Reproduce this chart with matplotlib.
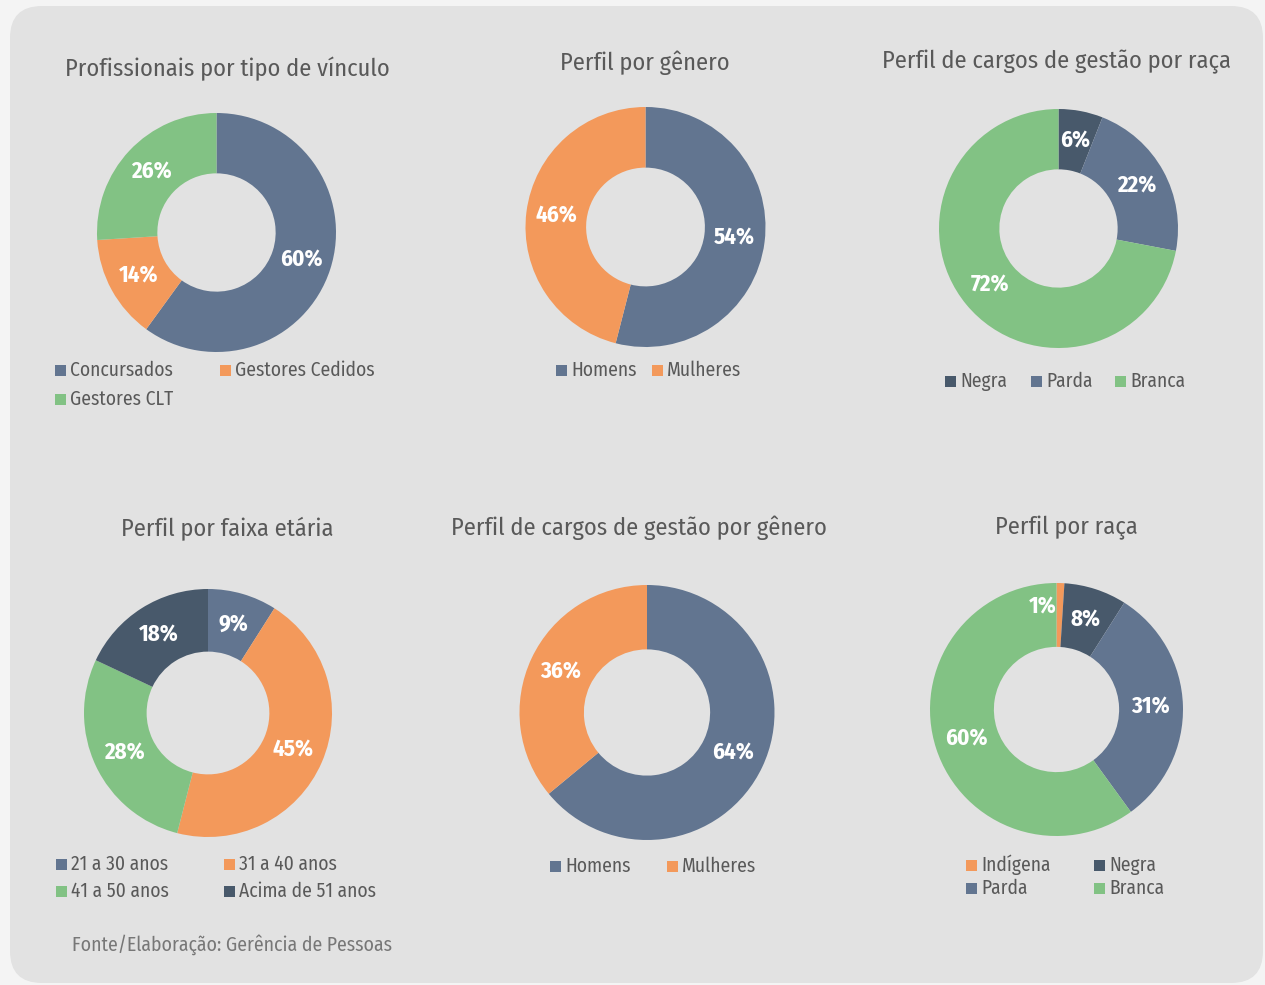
import matplotlib
matplotlib.use('Agg')
import matplotlib.pyplot as plt
from matplotlib import font_manager
from matplotlib.patches import FancyBboxPatch, Rectangle

# pick a narrow font if one is installed
names = {f.name for f in font_manager.fontManager.ttflist}
font = 'DejaVu Sans'
for cand in ['Fira Sans Condensed', 'Liberation Sans Narrow', 'Roboto Condensed', 'Open Sans Condensed', 'Liberation Sans']:
    if cand in names:
        font = cand
        break
plt.rcParams['font.family'] = [font, 'DejaVu Sans']

SLATE = '#627590'
ORANGE = '#F3995B'
GREEN = '#82C284'
DARK = '#48596B'
TXT = '#595959'

# data
vinculo_labels = ['Concursados', 'Gestores Cedidos', 'Gestores CLT']
vinculo_vals = [60, 14, 26]
genero_labels = ['Homens', 'Mulheres']
genero_vals = [54, 46]
gestao_raca_labels = ['Negra', 'Parda', 'Branca']
gestao_raca_vals = [6, 22, 72]
idade_labels = ['21 a 30 anos', '31 a 40 anos', '41 a 50 anos', 'Acima de 51 anos']
idade_vals = [9, 45, 28, 18]
gestao_genero_labels = ['Homens', 'Mulheres']
gestao_genero_vals = [64, 36]
raca_labels = ['Indígena', 'Negra', 'Parda', 'Branca']
raca_vals = [1, 8, 31, 60]

W, H = 1265, 985
fig = plt.figure(figsize=(W / 100, H / 100), dpi=100)
fig.patch.set_facecolor('#f4f4f4')

bg = fig.add_axes([0, 0, 1, 1])
bg.set_xlim(0, W)
bg.set_ylim(H, 0)
bg.axis('off')
bg.add_patch(FancyBboxPatch((10, 6), 1253, 977, boxstyle='round,pad=0,rounding_size=32',
                            facecolor='#e2e2e2', edgecolor='none'))


def donut(cx, cy, r, vals, colors, title, tx, ty):
    ax = fig.add_axes([(cx - r) / W, (H - cy - r) / H, 2 * r / W, 2 * r / H])
    wedges, texts, autotexts = ax.pie(vals, colors=colors, startangle=90, counterclock=False,
                                      radius=1, wedgeprops=dict(width=0.505, linewidth=0),
                                      autopct=lambda p: f'{round(p)}%', pctdistance=0.745,
                                      textprops=dict(color='white', fontsize=16.5, fontweight='bold'))
    ax.set_xlim(-1, 1)
    ax.set_ylim(-1, 1)
    bg.text(tx, ty, title, ha='center', va='center', fontsize=17.5, color=TXT)
    return ax, autotexts


def legend(labels, colors, xs, ys):
    for lab, col, x, y in zip(labels, colors, xs, ys):
        bg.add_patch(Rectangle((x, y - 5.5), 11, 11, facecolor=col, edgecolor='none'))
        bg.text(x + 15, y, lab, ha='left', va='center', fontsize=14, color=TXT)


c1 = [SLATE, ORANGE, GREEN]
donut(216.5, 232.5, 119.5, vinculo_vals, c1, 'Profissionais por tipo de vínculo', 227, 69)
legend(vinculo_labels, c1, [55, 220, 55], [370, 370, 399])

c2 = [SLATE, ORANGE]
donut(645.5, 227, 120, genero_vals, c2, 'Perfil por gênero', 644.5, 63)
legend(genero_labels, c2, [556, 652], [370, 370])

c3 = [DARK, SLATE, GREEN]
donut(1058.5, 228.5, 119.5, gestao_raca_vals, c3, 'Perfil de cargos de gestão por raça', 1056.5, 62)
legend(gestao_raca_labels, c3, [945, 1031, 1115], [381, 381, 381])

c4 = [SLATE, ORANGE, GREEN, DARK]
donut(208, 713, 124, idade_vals, c4, 'Perfil por faixa etária', 227, 529)
legend(idade_labels, c4, [56, 224, 56, 224], [864, 864, 891, 891])

c5 = [SLATE, ORANGE]
donut(647, 712.5, 127.5, gestao_genero_vals, c5, 'Perfil de cargos de gestão por gênero', 638.5, 528)
legend(gestao_genero_labels, c5, [550, 667], [866, 866])

c6 = [ORANGE, DARK, SLATE, GREEN]
ax6, at6 = donut(1056.5, 709.5, 126.5, raca_vals, c6, 'Perfil por raça', 1066.5, 528)
at6[0].set_position((-0.107, 0.81))
legend(raca_labels, c6, [966, 1094, 966, 1094], [865, 865, 888, 888])

bg.text(72, 945, 'Fonte/Elaboração: Gerência de Pessoas', ha='left', va='center',
        fontsize=14.2, color='#777777')

fig.savefig('out.png', dpi=100, facecolor=fig.get_facecolor())
